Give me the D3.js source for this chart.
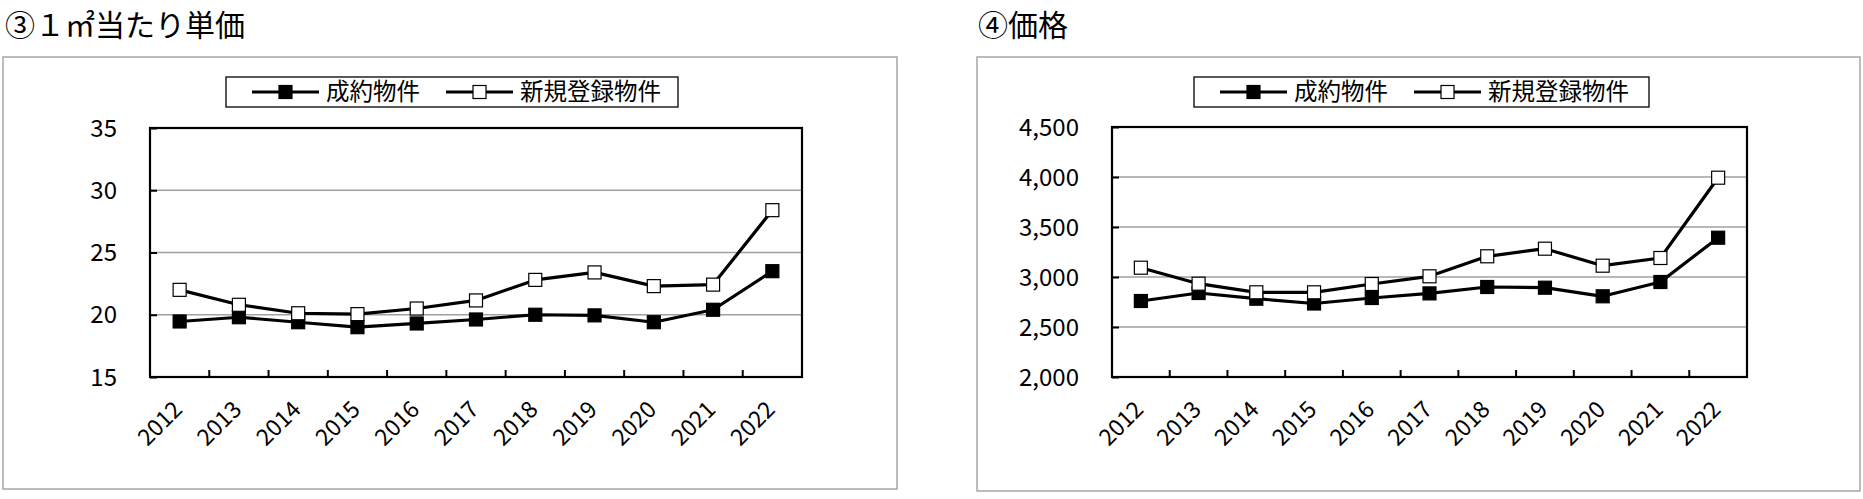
<!DOCTYPE html>
<html>
<head>
<meta charset="utf-8">
<script src="https://cdn.jsdelivr.net/npm/d3@7"></script>
<style>
  body { margin: 0; background: #fff; }
  svg { display: block; font-family: "Noto Sans CJK JP", sans-serif; }
</style>
</head>
<body>
<svg id="chart" width="1863" height="499"></svg>
<script>
// --- data ---
const years = ['2012', '2013', '2014', '2015', '2016', '2017', '2018', '2019', '2020', '2021', '2022'];
const seriesNames = ['成約物件', '新規登録物件'];

// ③ 1㎡当たり単価 (万円)
const unitContract = [19.46, 19.8, 19.4, 19.0, 19.3, 19.62, 20.0, 19.95, 19.4, 20.4, 23.5];
const unitNew = [22.0, 20.8, 20.12, 20.05, 20.5, 21.15, 22.8, 23.4, 22.3, 22.42, 28.4];
const unitTicks = [15, 20, 25, 30, 35];

// ④ 価格 (万円)
const priceContract = [2760, 2840, 2783, 2735, 2790, 2836, 2900, 2893, 2807, 2950, 3393];
const priceNew = [3093, 2933, 2847, 2847, 2930, 3007, 3207, 3283, 3113, 3190, 3993];
const priceTicks = [2000, 2500, 3000, 3500, 4000, 4500];

const svg = d3.select('#chart');

function drawPanel(cfg) {
  const g = svg.append('g');

  // outer frame
  g.append('rect')
    .attr('x', cfg.panel[0]).attr('y', cfg.panel[1])
    .attr('width', cfg.panel[2]).attr('height', cfg.panel[3])
    .attr('fill', 'none').attr('stroke', '#a6a6a6').attr('stroke-width', 1.5);

  // title
  g.append('text')
    .attr('x', cfg.titleX).attr('y', 36)
    .attr('font-size', 30)
    .text(cfg.title);

  const x = d3.scaleBand().domain(years).range([cfg.left, cfg.right]).padding(0);
  const y = d3.scaleLinear().domain(d3.extent(cfg.ticks)).range([cfg.bottom, cfg.top]);

  // gridlines
  g.selectAll('.grid')
    .data(cfg.ticks.slice(1, -1))
    .enter().append('line')
    .attr('x1', cfg.left).attr('x2', cfg.right)
    .attr('y1', d => y(d)).attr('y2', d => y(d))
    .attr('stroke', '#a0a0a0').attr('stroke-width', 1.6);

  // y axis (ticks inward)
  const yAxis = d3.axisRight(y).tickValues(cfg.ticks).tickSize(7).tickFormat('');
  g.append('g').attr('transform', `translate(${cfg.left},0)`).call(yAxis)
    .call(s => s.select('.domain').remove())
    .selectAll('line').attr('stroke', '#000').attr('stroke-width', 2);

  g.selectAll('.ylab')
    .data(cfg.ticks)
    .enter().append('text')
    .attr('x', cfg.left - 33).attr('y', d => y(d)).attr('dy', '0.36em')
    .attr('text-anchor', 'end').attr('font-size', 24)
    .text(d => d3.format(cfg.fmt)(d));

  // x ticks at category boundaries, pointing up into the plot
  g.selectAll('.xtick')
    .data(years.slice(1))
    .enter().append('line')
    .attr('x1', d => x(d)).attr('x2', d => x(d))
    .attr('y1', cfg.bottom).attr('y2', cfg.bottom - 7)
    .attr('stroke', '#000').attr('stroke-width', 2);

  g.selectAll('.xlab')
    .data(years)
    .enter().append('text')
    .attr('transform', d => `translate(${x(d) + x.bandwidth() / 2 + 4},${cfg.bottom + 34}) rotate(-45)`)
    .attr('text-anchor', 'end').attr('font-size', 23)
    .text(d => d);

  // plot frame
  g.append('rect')
    .attr('x', cfg.left).attr('y', cfg.top)
    .attr('width', cfg.right - cfg.left).attr('height', cfg.bottom - cfg.top)
    .attr('fill', 'none').attr('stroke', '#000').attr('stroke-width', 2.2);

  const line = d3.line()
    .x((d, i) => x(years[i]) + x.bandwidth() / 2)
    .y(d => y(d));

  const series = [
    { values: cfg.contract, fill: '#000' },
    { values: cfg.newly, fill: '#fff' }
  ];
  const m = 13;

  series.forEach(s => {
    g.append('path').datum(s.values)
      .attr('d', line)
      .attr('fill', 'none').attr('stroke', '#000').attr('stroke-width', 3.2)
      .attr('stroke-linejoin', 'round');
  });
  series.forEach(s => {
    g.selectAll(null)
      .data(s.values)
      .enter().append('rect')
      .attr('x', (d, i) => x(years[i]) + x.bandwidth() / 2 - m / 2)
      .attr('y', d => y(d) - m / 2)
      .attr('width', m).attr('height', m)
      .attr('fill', s.fill).attr('stroke', '#000').attr('stroke-width', 1.2);
  });

  // legend
  const lx = cfg.legendX;
  const lg = g.append('g').attr('transform', `translate(${lx},77)`);
  lg.append('rect').attr('width', cfg.legendW).attr('height', 30)
    .attr('fill', '#fff').attr('stroke', '#000').attr('stroke-width', 1.3);
  const items = [
    { name: seriesNames[0], fill: '#000', off: 26 },
    { name: seriesNames[1], fill: '#fff', off: 220 }
  ];
  items.forEach(it => {
    lg.append('line').attr('x1', it.off).attr('x2', it.off + 67)
      .attr('y1', 15).attr('y2', 15)
      .attr('stroke', '#000').attr('stroke-width', 3.2);
    lg.append('rect').attr('x', it.off + 33.5 - m / 2).attr('y', 15 - m / 2)
      .attr('width', m).attr('height', m)
      .attr('fill', it.fill).attr('stroke', '#000').attr('stroke-width', 1.2);
    lg.append('text').attr('x', it.off + 74).attr('y', 15).attr('dy', '0.36em')
      .attr('font-size', 23.5)
      .text(it.name);
  });
}

drawPanel({
  title: '③１㎡当たり単価', titleX: 5,
  panel: [3, 57, 894, 432],
  left: 150, right: 802, top: 128, bottom: 377,
  ticks: unitTicks, fmt: 'd',
  contract: unitContract, newly: unitNew,
  legendX: 226, legendW: 452
});

drawPanel({
  title: '④価格', titleX: 978,
  panel: [977, 57, 883, 434],
  left: 1112, right: 1747, top: 127, bottom: 377,
  ticks: priceTicks, fmt: ',',
  contract: priceContract, newly: priceNew,
  legendX: 1194, legendW: 455
});
</script>
</body>
</html>
